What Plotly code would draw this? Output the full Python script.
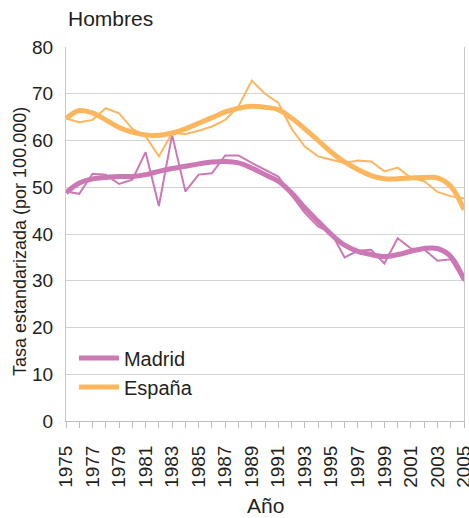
import plotly.graph_objects as go

years = list(range(1975, 2006))

madrid_annual = [49.1, 48.6, 52.9, 52.7, 50.7, 51.6, 57.5, 46.0, 61.2, 49.1,
                 52.7, 53.0, 56.8, 56.8, 55.2, 53.7, 52.3, 48.3, 44.5, 41.6,
                 40.2, 35.0, 36.4, 36.6, 33.7, 39.1, 36.9, 36.7, 34.3, 34.6, 29.9]
espana_annual = [64.7, 63.9, 64.4, 66.9, 65.8, 62.5, 60.9, 56.6, 61.6, 61.4,
                 62.1, 63.0, 64.4, 67.3, 72.8, 70.0, 68.1, 62.5, 58.7, 56.6,
                 55.9, 55.2, 55.7, 55.5, 53.4, 54.2, 52.0, 51.3, 49.0, 48.1, 47.6]
madrid_trend = [48.8, 50.9, 51.8, 52.1, 52.3, 52.3, 52.7, 53.4, 54.0, 54.5,
                55.0, 55.4, 55.5, 55.2, 54.1, 52.7, 51.3, 48.8, 45.6, 42.7,
                39.9, 37.6, 36.3, 35.6, 35.2, 35.6, 36.3, 36.9, 36.9, 35.2, 30.3]
espana_trend = [64.7, 66.4, 65.9, 64.4, 62.8, 61.8, 61.2, 61.1, 61.6, 62.5,
                63.7, 64.9, 66.1, 66.9, 67.3, 67.1, 66.6, 64.8, 62.5, 60.0,
                57.5, 55.4, 53.8, 52.5, 51.8, 51.8, 52.0, 52.1, 52.0, 50.2, 45.2]

tick_years = list(range(1975, 2006, 2))
tick_labels = [str(y) for y in tick_years]
y_ticks = [0, 10, 20, 30, 40, 50, 60, 70, 80]

PINK = "#CC78B4"
ORANGE = "#FBB65E"
FONT = "Liberation Sans, Arial, sans-serif"
TXT = "#231F20"

fig = go.Figure()
fig.add_trace(go.Scatter(x=years, y=madrid_annual, mode="lines",
                         line=dict(color=PINK, width=2), showlegend=False, hoverinfo="skip"))
fig.add_trace(go.Scatter(x=years, y=espana_annual, mode="lines",
                         line=dict(color=ORANGE, width=2), showlegend=False, hoverinfo="skip"))
fig.add_trace(go.Scatter(x=years, y=madrid_trend, mode="lines", name="Madrid",
                         line=dict(color=PINK, width=5, shape="spline", smoothing=1.0)))
fig.add_trace(go.Scatter(x=years, y=espana_trend, mode="lines", name="España",
                         line=dict(color=ORANGE, width=5, shape="spline", smoothing=1.0)))

fig.update_layout(
    width=469, height=518,
    margin=dict(l=66, r=5, t=47, b=97, autoexpand=False),
    paper_bgcolor="white", plot_bgcolor="white",
    font=dict(family=FONT, size=19, color=TXT),
    legend=dict(x=0.02, y=0.13, xanchor="left", yanchor="middle",
                bgcolor="rgba(0,0,0,0)", font=dict(size=20, color=TXT),
                itemwidth=40, tracegroupgap=0),
    annotations=[
        dict(text="Hombres", x=0, xref="paper", y=1, yref="paper", yshift=29, yanchor="middle",
             xanchor="left", showarrow=False, font=dict(size=21, color=TXT)),
        dict(text="Año", x=0.5, xref="paper", y=0, yref="paper", yshift=-84,
             xanchor="center", yanchor="middle", showarrow=False,
             font=dict(size=21, color=TXT)),
        dict(text="Tasa estandarizada (por 100.000)", x=0, xref="paper", xshift=-46,
             y=0.5, yref="paper", yshift=-8, textangle=-90, xanchor="center",
             yanchor="middle", showarrow=False, font=dict(size=18, color=TXT)),
    ],
)

fig.update_xaxes(
    range=[1975, 2005], tickmode="array", tickvals=tick_years, ticktext=tick_labels,
    tickangle=-90, ticks="outside", ticklen=6, tickcolor="#BDBDBD",
    minor=dict(dtick=1, tick0=1975, ticks="outside", ticklen=6, tickcolor="#BDBDBD", showgrid=False),
    showgrid=False, showline=True, linecolor="#BDBDBD", linewidth=1, zeroline=False,
    automargin=False, ticklabeloverflow="allow", ticklabelstandoff=10,
    tickfont=dict(size=19, color=TXT),
)
fig.update_yaxes(
    range=[0, 80], tickvals=y_ticks, showgrid=True, gridcolor="#D3D3D3", gridwidth=1,
    showline=True, linecolor="#C8C8C8", linewidth=1, mirror=True, zeroline=False,
    ticks="", ticklabelstandoff=8, automargin=False,
    tickfont=dict(size=19, color=TXT),
)

fig.write_html(
    "out.html",
    config={"displayModeBar": False},
    post_script="document.body.style.margin='0px';document.body.style.padding='0px';"
)
